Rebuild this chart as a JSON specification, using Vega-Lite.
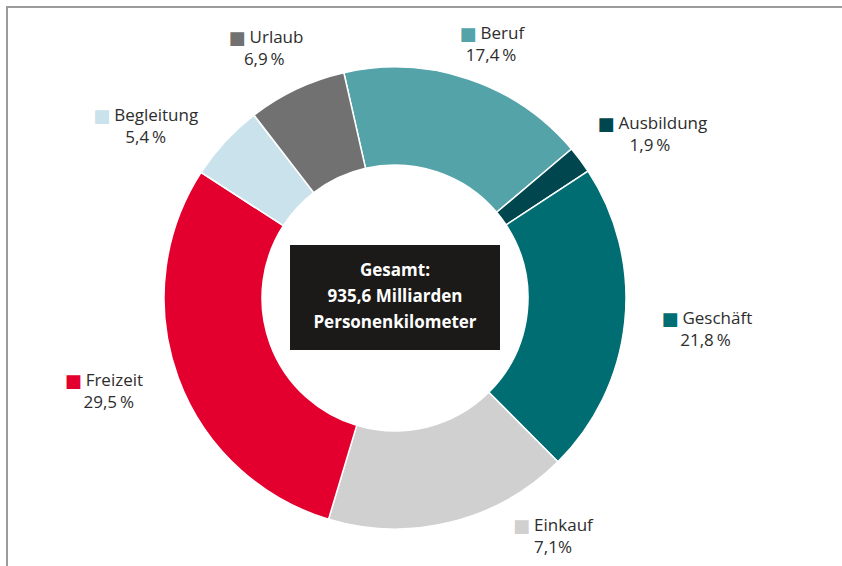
{
  "$schema": "https://vega.github.io/schema/vega-lite/v6.json",
  "width": 835,
  "height": 559,
  "autosize": {"type": "none"},
  "padding": {"left": 7, "top": 7, "right": 0, "bottom": 0},
  "background": "white",
  "config": {"view": {"stroke": null}},
  "data": {"values": [
    {"cat": "Beruf", "value": 17.4, "label": "17,4\u2009%", "ord": 1},
    {"cat": "Ausbildung", "value": 1.9, "label": "1,9\u2009%", "ord": 2},
    {"cat": "Geschäft", "value": 21.8, "label": "21,8\u2009%", "ord": 3},
    {"cat": "Einkauf", "value": 17.1, "label": "7,1%", "ord": 4},
    {"cat": "Freizeit", "value": 29.5, "label": "29,5\u2009%", "ord": 5},
    {"cat": "Begleitung", "value": 5.4, "label": "5,4\u2009%", "ord": 6},
    {"cat": "Urlaub", "value": 6.9, "label": "6,9\u2009%", "ord": 7}
  ]},
  "layer": [
    {
      "data": {"values": [{"frame": "Rahmen"}]},
      "mark": {"type": "rect", "fill": "transparent", "stroke": "#9b9b9b", "strokeWidth": 2, "strokeDash": [835, 1394, 559, 10]},
      "encoding": {}
    },
    {
      "mark": {"type": "arc", "innerRadius": 133, "outerRadius": 231, "stroke": "white", "strokeWidth": 1.5,
               "x": {"expr": "width/2 - 29.5"}, "y": {"expr": "height/2 + 11.5"}},
      "encoding": {
        "theta": {"field": "value", "type": "quantitative", "stack": true,
                  "scale": {"domain": [0, 100], "nice": false, "range": [-0.2234, 6.0598]}},
        "order": {"field": "ord", "type": "quantitative"},
        "color": {"field": "cat", "type": "nominal", "legend": null,
                  "scale": {"domain": ["Beruf", "Ausbildung", "Geschäft", "Einkauf", "Freizeit", "Begleitung", "Urlaub"],
                            "range": ["#54a3a8", "#00464f", "#006d72", "#d0d0d0", "#e3002f", "#c9e2ec", "#717171"]}}
      }
    },
    {
      "mark": {"type": "text", "text": "■", "font": "DejaVu Sans", "fontSize": 18, "align": "left", "baseline": "alphabetic",
               "x": {"expr": "width/2 - 29.5"}, "y": {"expr": "height/2 + 11.5"},
               "radius": {"expr": "{'Beruf':272,'Ausbildung':303,'Geschäft':312,'Einkauf':286,'Freizeit':301,'Begleitung':303,'Urlaub':282}[datum.cat]"},
               "thetaOffset": {"expr": "{'Beruf':0.0375,'Ausbildung':0.0705,'Geschäft':-0.005,'Einkauf':-0.34,'Freizeit':0.038,'Begleitung':-0.14,'Urlaub':-0.042}[datum.cat]"},
               "dx": {"expr": "-(21 + 8.4*length(datum.cat))/2"}, "dy": -4},
      "encoding": {
        "theta": {"field": "value", "type": "quantitative", "stack": true},
        "order": {"field": "ord", "type": "quantitative"},
        "color": {"field": "cat", "type": "nominal", "legend": null}
      }
    },
    {
      "mark": {"type": "text", "font": "Open Sans", "fontSize": 17, "color": "#2d2d2d", "align": "left", "baseline": "alphabetic",
               "x": {"expr": "width/2 - 29.5"}, "y": {"expr": "height/2 + 11.5"},
               "radius": {"expr": "{'Beruf':272,'Ausbildung':303,'Geschäft':312,'Einkauf':286,'Freizeit':301,'Begleitung':303,'Urlaub':282}[datum.cat]"},
               "thetaOffset": {"expr": "{'Beruf':0.0375,'Ausbildung':0.0705,'Geschäft':-0.005,'Einkauf':-0.34,'Freizeit':0.038,'Begleitung':-0.14,'Urlaub':-0.042}[datum.cat]"},
               "dx": {"expr": "-(21 + 8.4*length(datum.cat))/2 + 21"}, "dy": -5},
      "encoding": {
        "theta": {"field": "value", "type": "quantitative", "stack": true},
        "order": {"field": "ord", "type": "quantitative"},
        "text": {"field": "cat", "type": "nominal"}
      }
    },
    {
      "mark": {"type": "text", "font": "Open Sans", "fontSize": 17, "color": "#2d2d2d", "align": "center", "baseline": "alphabetic",
               "x": {"expr": "width/2 - 29.5"}, "y": {"expr": "height/2 + 11.5"},
               "radius": {"expr": "{'Beruf':272,'Ausbildung':303,'Geschäft':312,'Einkauf':286,'Freizeit':301,'Begleitung':303,'Urlaub':282}[datum.cat]"},
               "thetaOffset": {"expr": "{'Beruf':0.0375,'Ausbildung':0.0705,'Geschäft':-0.005,'Einkauf':-0.34,'Freizeit':0.038,'Begleitung':-0.14,'Urlaub':-0.042}[datum.cat]"},
               "dy": 17},
      "encoding": {
        "theta": {"field": "value", "type": "quantitative", "stack": true},
        "order": {"field": "ord", "type": "quantitative"},
        "text": {"field": "label", "type": "nominal"}
      }
    },
    {
      "data": {"values": [{"box": "Gesamt"}]},
      "mark": {"type": "point", "shape": "M-1,-0.5H1V0.5H-1Z", "size": 44100, "filled": true, "color": "#1b1a18", "opacity": 1,
               "x": {"expr": "width/2 - 29.5"}, "y": {"expr": "height/2 + 11"}},
      "encoding": {}
    },
    {
      "data": {"values": [{"box": "Gesamt"}]},
      "mark": {"type": "text", "text": ["Gesamt:", "935,6 Milliarden", "Personenkilometer"], "font": "Open Sans", "fontWeight": "bold",
               "fontSize": 17, "lineHeight": 26, "color": "white", "align": "center", "baseline": "middle",
               "x": {"expr": "width/2 - 29.5"}, "y": {"expr": "height/2 - 15.5"}},
      "encoding": {}
    }
  ]
}
